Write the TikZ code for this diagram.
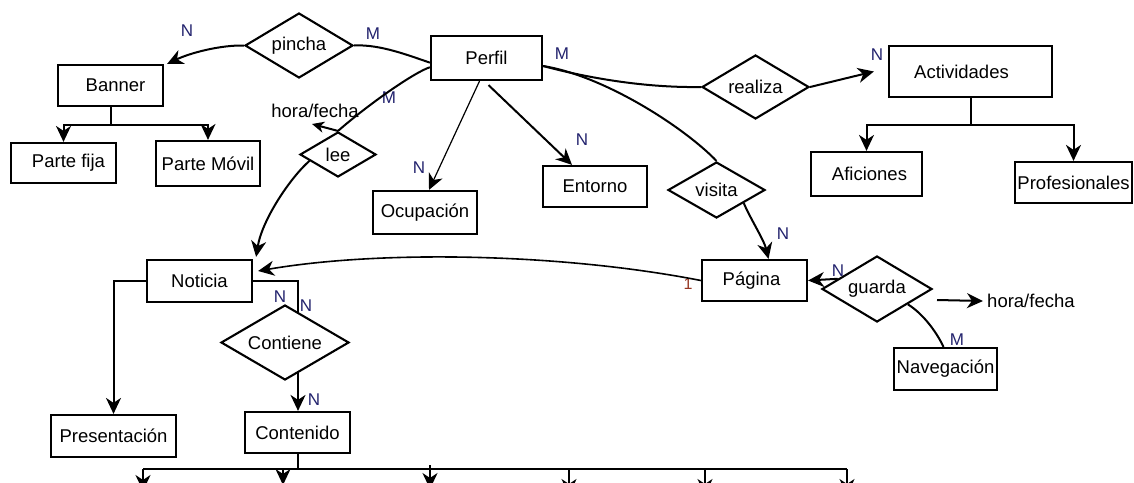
\documentclass[tikz,border=0pt]{standalone}
\usepackage{fontspec}
\setmainfont{Liberation Sans}
\usetikzlibrary{shapes.geometric,arrows.meta,calc}
\definecolor{cardcol}{RGB}{35,35,110}
\definecolor{onecol}{RGB}{150,55,35}
\tikzset{
  ent/.style={draw, line width=2.2pt, rectangle, inner sep=0pt, font=\fontsize{18.5}{22}\selectfont},
  rel/.style={draw, line width=2.1pt, diamond, inner sep=0pt, font=\fontsize{18.5}{22}\selectfont},
  card/.style={text=cardcol, inner sep=0pt, font=\fontsize{17}{20}\selectfont},
  attr/.style={inner sep=0pt, font=\fontsize{18.5}{22}\selectfont},
  link/.style={line width=2pt},
  arr/.style={link, -{Stealth[length=16pt,width=15pt,inset=5pt]}},
  arrsmall/.style={link, -{Stealth[length=12pt,width=11pt,inset=3.5pt]}},
}
\begin{document}
\begin{tikzpicture}[x=1pt,y=1pt]
\fill[white] (0,0) rectangle (1134,-482);
\clip (0,0) rectangle (1134,-482);

% entities
\node[ent, minimum width=105pt, minimum height=41pt] (banner) at (110.5,-85.5) {\hspace*{10pt}Banner};
\node[ent, minimum width=105pt, minimum height=40pt] (partefija) at (63.5,-163) {\hspace*{10pt}Parte fija};
\node[ent, minimum width=104pt, minimum height=45pt] (partemovil) at (208,-163.5) {Parte Móvil};
\node[ent, minimum width=111pt, minimum height=44pt] (perfil) at (486.5,-58) {Perfil};
\node[ent, minimum width=104pt, minimum height=43pt] (ocupacion) at (425,-212.5) {Ocupación};
\node[ent, minimum width=104pt, minimum height=41pt] (entorno) at (595,-186.5) {Entorno};
\node[ent, minimum width=163pt, minimum height=51pt] (actividades) at (970.5,-71.5) {\hspace*{-18pt}Actividades};
\node[ent, minimum width=111pt, minimum height=44pt] (aficiones) at (866.5,-174) {\hspace*{6pt}Aficiones};
\node[ent, minimum width=117pt, minimum height=41pt] (profesionales) at (1073.5,-182.5) {Profesionales};
\node[ent, minimum width=105pt, minimum height=42pt] (noticia) at (199.5,-281) {Noticia};
\node[ent, minimum width=105pt, minimum height=41pt] (pagina) at (754.5,-280.5) {\hspace*{-6pt}Página};
\node[ent, minimum width=103pt, minimum height=42pt] (navegacion) at (945.5,-369) {Navegación};
\node[ent, minimum width=125pt, minimum height=42pt] (presentacion) at (113.5,-436) {Presentación};
\node[ent, minimum width=105pt, minimum height=41pt] (contenido) at (297.5,-432.5) {Contenido};

% relationships
\node[rel, aspect=1.66, minimum width=108pt, minimum height=65pt] (pincha) at (299,-45.5) {pincha};
\node[rel, aspect=1.69, minimum width=76pt, minimum height=45pt] (lee) at (338,-154.5) {lee};
\node[rel, aspect=1.67, minimum width=107pt, minimum height=64pt] (realiza) at (755.5,-87) {realiza};
\node[rel, aspect=1.73, minimum width=97pt, minimum height=56pt] (visita) at (716.5,-190) {visita};
\node[rel, aspect=1.67, minimum width=110pt, minimum height=66pt] (guarda) at (877,-289) {guarda};
\node[rel, aspect=1.7, minimum width=128pt, minimum height=75pt] (contiene) at (285,-342.5) {Contiene};

% attributes and cardinalities
\node[attr] (hf1) at (315,-111) {hora/fecha};
\node[attr, anchor=west] (hf2) at (987,-301) {hora/fecha};
\node[card] (cN1) at (187,-31) {N};
\node[card] (cM1) at (373,-34) {M};
\node[card] (cM2) at (389,-98) {M};
\node[card] (cN2) at (419,-168) {N};
\node[card] (cN3) at (582,-140) {N};
\node[card] (cM3) at (562,-54) {M};
\node[card] (cN4) at (877,-55) {N};
\node[card] (cN5) at (783,-234) {N};
\node[card, text=onecol, font=\fontsize{16}{18}\selectfont] (c1) at (688,-284) {1};
\node[card] (cN6) at (838,-271) {N};
\node[card] (cM4) at (957,-340) {M};
\node[card] (cN7) at (280,-297) {N};
\node[card] (cN8) at (306,-306) {N};
\node[card] (cN9) at (314,-400) {N};

% pincha
\draw[arr] (pincha.west) .. controls (220,-45) and (190,-53) .. ([xshift=3pt]banner.north east);
\draw[link] (pincha.east) .. controls (380,-44) and (410,-56) .. ($(perfil.north west)!0.6!(perfil.south west)$);

% lee
\draw[link] ($(perfil.north west)!0.7!(perfil.south west)$) .. controls (415,-72) and (370,-103) .. (lee.north);
\coordinate (hftip) at (312,-124);
\draw[arrsmall] (lee.north) -- (hftip);
\draw[arr] ($(lee.west)!0.27!(lee.south)$) .. controls (290,-178) and (262,-220) .. ([xshift=3pt,yshift=2pt]noticia.north east);

% Perfil attributes
\draw[arr, line width=1.2pt] ([xshift=-7pt]perfil.south) -- ([xshift=4pt]ocupacion.north);
\draw[arr] ([xshift=2pt,yshift=-4pt]perfil.south) -- ([xshift=-23pt]entorno.north);

% realiza
\draw[link] ([yshift=-8pt]perfil.east) .. controls (580,-76) and (640,-88) .. (realiza.west);
\draw[arr] (realiza.east) -- ([xshift=-14pt]actividades.west);
\draw[arr] (actividades.south) -- ++(0,-27) -| (aficiones.north);
\draw[arr] (actividades.south) -- ++(0,-27) -| (profesionales.north);

% visita
\draw[link] ([yshift=-8pt]perfil.east) .. controls (605,-76) and (685,-128) .. (visita.north);
\draw[arr] ($(visita.south)!0.55!(visita.east)$) .. controls (750,-218) and (764,-240) .. ([xshift=14pt]pagina.north);

% Pagina - Noticia
\draw[arr, line width=1.6pt] (pagina.west) .. controls (560,-253) and (380,-250) .. ([xshift=5pt,yshift=10pt]noticia.east);

% guarda
\draw[arr] ($(guarda.west)!0.3!(guarda.north)$) -- (pagina.east);
\draw[link] ($(guarda.south)!0.55!(guarda.east)$) .. controls (925,-315) and (938,-335) .. ([xshift=-2pt]navegacion.north);
\coordinate (gout) at (937,-300);
\draw[arr] (gout) -- ([xshift=-4pt]hf2.west);

% Banner parts
\draw[arr] (banner.south) -- ++(0,-17.5) -| (partefija.north);
\draw[arr] (banner.south) -- ++(0,-17.5) -| (partemovil.north);

% Noticia
\draw[arr] (noticia.west) -| (presentacion.north);
\draw[link] (noticia.east) -| ($(contiene.north)!0.2!(contiene.east)$);
\coordinate (cs) at ($(contiene.south)!0.2!(contiene.east)$);
\draw[arr] (cs) -- (cs |- contenido.north);

% Contenido branches
\coordinate (bL) at (143,-469);
\coordinate (bR) at (847,-469);
\coordinate (t1) at (143,-491);
\coordinate (t2) at (283,-485);
\coordinate (t3) at (430,-489);
\coordinate (t4) at (569,-495);
\coordinate (t5) at (705,-495);
\coordinate (t6) at (847,-495);
\draw[link] (contenido.south) -- (contenido.south |- bL);
\draw[link] (bL) -- (bR);
\foreach \t in {t1,t2,t4,t5,t6} \draw[arr] (\t |- bL) -- (\t);
\draw[arr] ($(t3 |- bL)+(0,4)$) -- (t3);
\end{tikzpicture}
\end{document}
